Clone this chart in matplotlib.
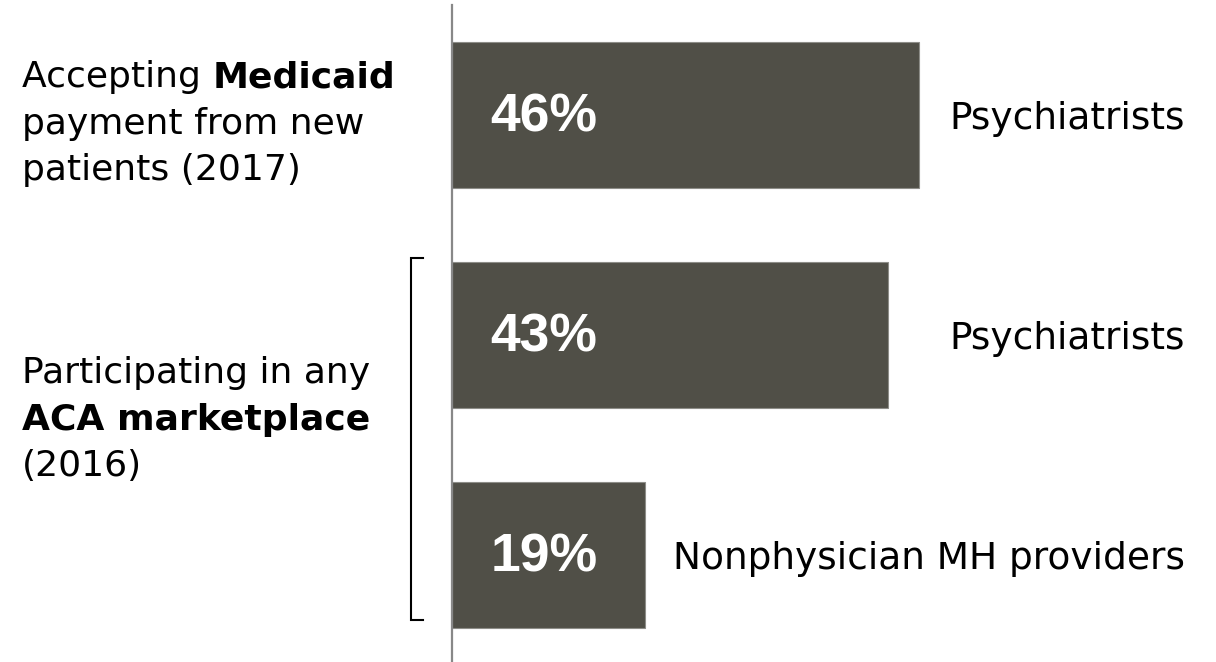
import matplotlib
matplotlib.use("Agg")
import matplotlib.pyplot as plt
import matplotlib.transforms as mtransforms
from matplotlib.lines import Line2D
from matplotlib import font_manager as fm

# ---- data ----
values = [46, 43, 19]
value_labels = ["46%", "43%", "19%"]
bar_labels = ["Psychiatrists", "Psychiatrists", "Nonphysician MH providers"]
group1_lines = [[("Accepting ", "normal"), ("Medicaid", "bold")],
                [("payment from new", "normal")],
                [("patients (2017)", "normal")]]
group2_lines = [[("Participating in any", "normal")],
                [("ACA marketplace", "bold")],
                [("(2016)", "normal")]]

W, H = 1216, 662
fig = plt.figure(figsize=(W / 100, H / 100), dpi=100)
fig.patch.set_facecolor("white")

def fx(px):
    return px / W

def fy(py):
    return 1 - py / H

# find regular-width Liberation Sans Bold
bold_path = None
for f in fm.fontManager.ttflist:
    if f.name == "Liberation Sans" and "Narrow" not in f.fname and \
            (f.weight == 700 or f.weight == "bold") and f.style == "normal":
        bold_path = f.fname
        break
if bold_path:
    pct_font = fm.FontProperties(fname=bold_path, size=38.5)
else:
    pct_font = fm.FontProperties(family="Liberation Sans", weight="bold", size=38.5)

ax = fig.add_axes([fx(452), 0, fx(761), (H - 5) / H])
pos = list(range(len(values)))
ax.barh(pos, values, height=0.66, color="#504f47", edgecolor="#8d8d88",
        linewidth=0.8, left=0)
ax.set_xlim(0, 75)
ax.set_ylim(2.486, -0.5)
for s in ["top", "right", "bottom"]:
    ax.spines[s].set_visible(False)
ax.spines["left"].set_color("#888888")
ax.spines["left"].set_linewidth(1.6)
ax.set_xticks([])
ax.set_yticks([])
ax.patch.set_alpha(0)

# value labels inside bars
for p, lab in zip(pos, value_labels):
    ax.text(3.8, p - 0.012, lab, color="white", fontproperties=pct_font,
            ha="left", va="center_baseline")

# category labels right-aligned
blend = mtransforms.blended_transform_factory(fig.transFigure, ax.transData)
for p, lab in zip(pos, bar_labels):
    ax.text(fx(1185), p, lab, transform=blend, fontsize=27, color="black",
            family="DejaVu Sans", ha="right", va="center_baseline")

# left group labels with mixed weights
fig.canvas.draw()
renderer = fig.canvas.get_renderer()

def draw_lines(lines, x0, y0, spacing):
    for i, line in enumerate(lines):
        xpix = x0
        ybase = y0 + i * spacing
        for txt, wt in line:
            t = fig.text(fx(xpix), fy(ybase), txt, fontsize=26, fontweight=wt,
                         family="DejaVu Sans", ha="left", va="baseline")
            bb = t.get_window_extent(renderer=renderer)
            xpix += bb.width

draw_lines(group1_lines, 22, 87, 46.7)
draw_lines(group2_lines, 22, 383, 46.7)

# bracket
bx = [fx(423), fx(411), fx(411), fx(423)]
by = [fy(258), fy(258), fy(620), fy(620)]
fig.add_artist(Line2D(bx, by, transform=fig.transFigure, color="black",
                      linewidth=1.5, solid_joinstyle="miter"))

fig.savefig("out.png", dpi=100, facecolor="white")
